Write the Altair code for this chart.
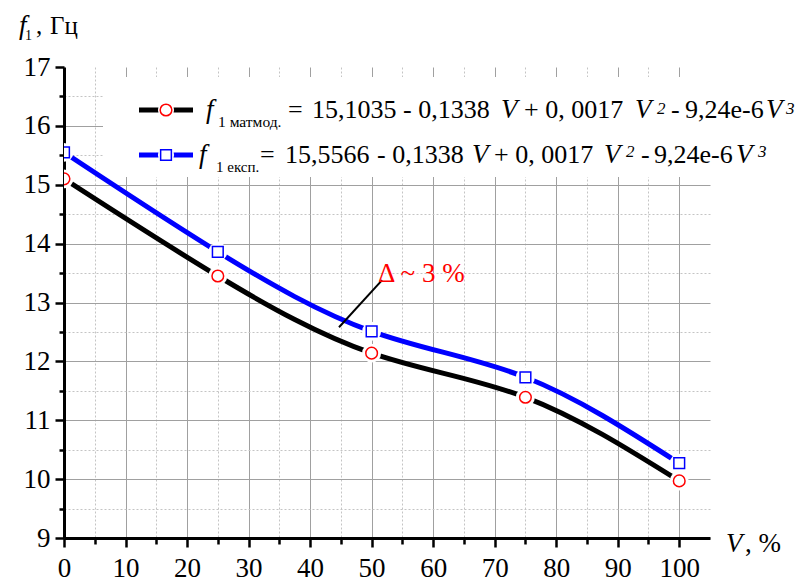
import altair as alt
import pandas as pd

FONT = "Times New Roman"

# ---- data ----
V = [0, 25, 50, 75, 100]
f_matmod = [15.10, 13.45, 12.14, 11.39, 9.97]
f_eksp = [15.55, 13.86, 12.51, 11.73, 10.27]
series_names = ["матмод.", "експ."]
series_colors = ["#000000", "#0000ff"]

# annotation "Δ ~ 3 %" leader line (data units)
ann_V = [44.7, 51.7]
ann_f = [12.58, 13.38]
ann_text = "Δ ~ 3 %"

# legend equations (token, kind: n = normal, i = italic, s = italic superscript)
eq_mat = ["=", "15,1035", "- 0,1338", "V", "+ 0, 0017", "V", "2", "-", "9,24e-6", "V", "3"]
eq_exp = ["=", "15,5566", "- 0,1338", "V", "+ 0, 0017", "V", "2", "-", "9,24e-6", "V", "3"]
eq_kind = ["n", "n", "n", "i", "n", "i", "s", "n", "n", "i", "s"]

x_ticks = list(range(0, 101, 5))
y_ticks = [9 + 0.5 * i for i in range(17)]

df = pd.DataFrame({
    "V": V * 2,
    "f": f_matmod + f_eksp,
    "s": [series_names[0]] * 5 + [series_names[1]] * 5,
})
ann_df = pd.DataFrame({"V": [ann_V[0]], "f": [ann_f[0]], "V2": [ann_V[1]], "f2": [ann_f[1]]})
one = alt.Data(values=[{"a": 1}])

OX, OY = 64, 67  # plot origin on the page

x_axis = alt.Axis(
    values=x_ticks, title=None, labelFont=FONT, labelFontSize=27, labelColor="black",
    labelExpr="datum.value % 10 === 0 ? '' + datum.value : ''",
    labelPadding=8, labelOverlap=False, labelFlush=False,
    domainColor="black", domainWidth=3, tickColor="black", tickWidth=2.5,
    tickSize={"condition": {"test": "datum.value % 10 === 0", "value": 9}, "value": 6},
    grid=True, gridColor={"condition": {"test": "datum.value % 10 === 0", "value": "#a0a0a0"}, "value": "#c4c4c4"},
    gridDash={"condition": {"test": "datum.value % 10 === 0", "value": []}, "value": [2, 2]},
    gridWidth=1,
)
y_axis = alt.Axis(
    values=y_ticks, title=None, labelFont=FONT, labelFontSize=27, labelColor="black",
    labelExpr="datum.value % 1 === 0 ? '' + datum.value : ''",
    labelPadding=5, labelOverlap=False, labelFlush=False,
    domainColor="black", domainWidth=3, tickColor="black", tickWidth=2.5,
    tickSize={"condition": {"test": "datum.value % 1 === 0", "value": 9}, "value": 5},
    grid=True, gridColor={"condition": {"test": "datum.value % 1 === 0", "value": "#a0a0a0"}, "value": "#c4c4c4"},
    gridDash={"condition": {"test": "datum.value % 1 === 0", "value": []}, "value": [2, 2]},
    gridOpacity={"condition": {"test": "datum.value === 17", "value": 0}, "value": 1},
    gridWidth=1,
)
x_enc = alt.X("V:Q", scale=alt.Scale(domain=[0, 105], nice=False, zero=False), axis=x_axis)
y_enc = alt.Y("f:Q", scale=alt.Scale(domain=[9, 17], nice=False, zero=False), axis=y_axis)

legend_bg = alt.Chart(one).mark_rect(color="white").encode(
    x=alt.value(103 - OX), x2=alt.value(712 - OX), y=alt.value(77 - OY), y2=alt.value(177 - OY)
)

lines = alt.Chart(df).mark_line(interpolate="natural", strokeWidth=5, clip=True).encode(
    x=x_enc, y=y_enc,
    color=alt.Color("s:N", scale=alt.Scale(domain=series_names, range=series_colors), legend=None),
)
halo = alt.Chart(df).mark_point(shape="circle", filled=True, color="white", opacity=1, size=360, clip=True).encode(
    x=x_enc, y=y_enc
)
circles = alt.Chart(df).transform_filter(alt.datum.s == series_names[0]).mark_point(
    shape="circle", filled=True, fill="white", stroke="#ff0000", strokeWidth=1.5, opacity=1, size=135, clip=True
).encode(x=x_enc, y=y_enc)
squares = alt.Chart(df).transform_filter(alt.datum.s == series_names[1]).mark_point(
    shape="square", filled=True, fill="white", stroke="#0000ff", strokeWidth=1.5, opacity=1, size=115, clip=True
).encode(x=x_enc, y=y_enc)

ann_rule = alt.Chart(ann_df).mark_rule(color="black", strokeWidth=2).encode(
    x=x_enc, y=y_enc, x2="V2:Q", y2="f2:Q"
)


def txt(s, x, y, size, italic=False, color="black"):
    props = dict(text=s, font=FONT, fontSize=size, align="left", baseline="alphabetic", color=color)
    if italic:
        props["fontStyle"] = "italic"
    return alt.Chart(one).mark_text(**props).encode(x=alt.value(x - OX), y=alt.value(y - OY))


ann_label = txt(ann_text, 378, 282, 27, color="#ff0000")

# legend symbols
leg_layers = []
for (ly, col, shape, stroke, msize) in [(110, "#000000", "circle", "#ff0000", 135), (155, "#0000ff", "square", "#0000ff", 115)]:
    leg_layers.append(alt.Chart(one).mark_rule(color=col, strokeWidth=5).encode(
        x=alt.value(139 - OX), x2=alt.value(193 - OX), y=alt.value(ly - OY)))
    leg_layers.append(alt.Chart(one).mark_point(shape="circle", filled=True, color="white", opacity=1, size=260).encode(
        x=alt.value(166 - OX), y=alt.value(ly - OY)))
    leg_layers.append(alt.Chart(one).mark_point(shape=shape, filled=True, fill="white", stroke=stroke,
                                                strokeWidth=1.5, opacity=1, size=msize).encode(
        x=alt.value(166 - OX), y=alt.value(ly - OY)))

# legend texts (page x of each token)
row1_x = [288, 312, 403, 501, 524, 635, 657, 671, 685, 766, 786]
row2_x = [260, 285, 377, 472, 494, 604, 626, 641, 654, 736, 758]
EQ = 26
texts = []
texts.append(txt("f", 206, 118, 27, italic=True))
texts.append(txt("1 " + series_names[0], 218, 127, 15.5))
texts.append(txt("f", 199, 163, 27, italic=True))
texts.append(txt("1 " + series_names[1], 216, 172, 15))
for row_tokens, row_x, base, sup_base in [(eq_mat, row1_x, 118, 114), (eq_exp, row2_x, 163, 157)]:
    for seg, xx, k in zip(row_tokens, row_x, eq_kind):
        if k == "s":
            texts.append(txt(seg, xx, sup_base, 17, italic=True))
        else:
            texts.append(txt(seg, xx, base, EQ + (1 if k == "i" else 0), italic=(k == "i")))

# axis titles
titles = [
    txt("f", 19, 34, 27, italic=True),
    txt("1", 25, 40, 14),
    txt(",", 36, 34, 25),
    txt("Гц", 50, 34, 25),
    txt("V", 726, 552, 27, italic=True),
    txt(", %", 745, 552, 27),
]

chart = alt.layer(
    legend_bg, lines, halo, circles, squares, ann_rule, ann_label, *leg_layers, *texts, *titles
).properties(
    width=646, height=471,
    autosize=alt.AutoSizeParams(type="none"),
    padding={"left": 56, "top": 59, "right": 87, "bottom": 40},
).configure(background="white").configure_view(stroke="transparent")

chart.save("out.html", embed_options={"renderer": "svg", "actions": False})
